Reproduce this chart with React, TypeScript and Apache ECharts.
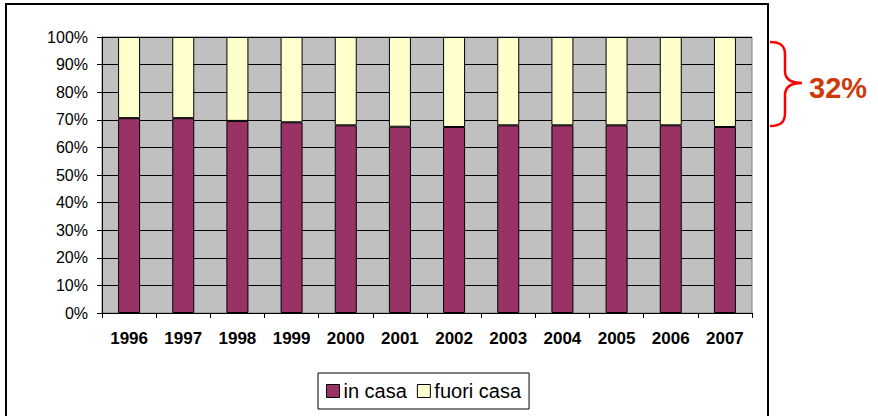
import React, { useEffect, useRef } from "react";
import * as echarts from "echarts";

const years = ["1996", "1997", "1998", "1999", "2000", "2001", "2002", "2003", "2004", "2005", "2006", "2007"];
const inCasa = [70.6, 70.6, 69.6, 69.1, 68.0, 67.5, 67.4, 68.0, 68.0, 68.0, 68.0, 67.4];
const fuoriCasa = inCasa.map((v) => +(100 - v).toFixed(1));
const yTicks = { min: 0, max: 100, interval: 10 };
const seriesNames = ["in casa", "fuori casa"];
const annotation = "32%";

const FONT = "'Liberation Sans', Arial, sans-serif";

let registered = false;
function registerBrace() {
  if (registered) return;
  registered = true;
  const d =
    "M770,42 C781,42 785,46 785,55 L785,71 C785,79 790,83 802,83 C790,83 785,87 785,95 L785,113 C785,122 781,126 770,126";
  echarts.graphic.registerShape("brace", echarts.graphic.extendPath(d, {}) as any);
}

export default function App() {
  const ref = useRef<HTMLDivElement>(null);
  useEffect(() => {
    if (!ref.current) return;
    registerBrace();
    const chart = echarts.init(ref.current, null, { renderer: "svg" });
    chart.setOption({
      animation: false,
      backgroundColor: "#ffffff",
      textStyle: { fontFamily: FONT },
      grid: {
        left: 102,
        right: 126,
        top: 37,
        bottom: 103,
        show: true,
        backgroundColor: "#C0C0C0",
        borderColor: "#808080",
        borderWidth: 1,
      },
      legend: {
        left: 318,
        top: 373,
        orient: "horizontal",
        padding: [8, 8, 8, 8],
        borderColor: "#000",
        borderWidth: 1,
        itemWidth: 13,
        itemHeight: 13,
        itemGap: 10,
        icon: "rect",
        itemStyle: { borderColor: "#000", borderWidth: 1 },
        textStyle: { fontFamily: FONT, fontSize: 20, color: "#000", padding: [0, 0, 0, -1] },
        data: seriesNames,
      },
      xAxis: {
        type: "category",
        data: years,
        axisLine: { lineStyle: { color: "#000", width: 1 } },
        axisTick: { show: true, length: 5, lineStyle: { color: "#000" } },
        axisLabel: { fontFamily: FONT, fontSize: 17, fontWeight: "bold", color: "#000", margin: 17 },
      },
      yAxis: {
        type: "value",
        min: yTicks.min,
        max: yTicks.max,
        interval: yTicks.interval,
        axisLine: { show: true, lineStyle: { color: "#000", width: 1 } },
        axisTick: { show: true, length: 5, lineStyle: { color: "#000" } },
        axisLabel: { fontFamily: FONT, fontSize: 16, color: "#000", margin: 14, formatter: "{value}%" },
        splitLine: { show: true, lineStyle: { color: "#000", width: 1 } },
      },
      series: [
        {
          name: seriesNames[0],
          type: "bar",
          stack: "total",
          barWidth: 22,
          data: inCasa,
          itemStyle: { color: "#993366", borderColor: "#000", borderWidth: 1 },
        },
        {
          name: seriesNames[1],
          type: "bar",
          stack: "total",
          barWidth: 22,
          data: fuoriCasa,
          itemStyle: { color: "#FFFFCC", borderColor: "#000", borderWidth: 1 },
        },
      ],
      graphic: [
        {
          type: "rect",
          shape: { x: 6, y: 4, width: 762, height: 420 },
          style: { fill: "none", stroke: "#000", lineWidth: 2 },
          silent: true,
        },
        {
          type: "brace",
          x: 0,
          y: 0,
          style: { fill: "none", stroke: "#FF0000", lineWidth: 2.5 },
          silent: true,
        },
        {
          type: "text",
          x: 809,
          y: 88,
          style: {
            text: annotation,
            fill: "#CF3A0A",
            font: `bold 29px ${FONT}`,
            textVerticalAlign: "middle",
            verticalAlign: "middle",
          },
          silent: true,
        },
      ],
    });
    return () => chart.dispose();
  }, []);
  return (
    <div
      ref={ref}
      style={{ position: "absolute", left: 0, top: 0, width: 878, height: 416, background: "#fff" }}
    />
  );
}
